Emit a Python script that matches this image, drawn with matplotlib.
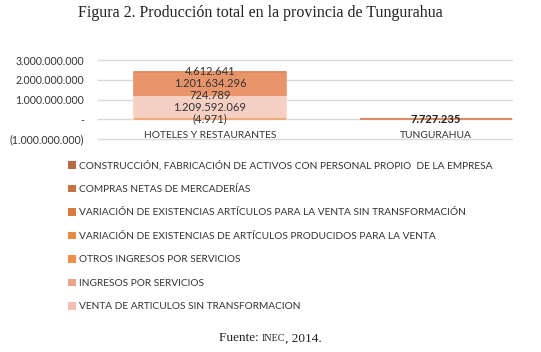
import matplotlib
matplotlib.use("Agg")
import matplotlib.pyplot as plt
from matplotlib.patches import Patch
import numpy as np

categories = ["HOTELES Y RESTAURANTES", "TUNGURAHUA"]
series_names = [
    "CONSTRUCCIÓN, FABRICACIÓN DE ACTIVOS CON PERSONAL PROPIO  DE LA EMPRESA",
    "COMPRAS NETAS DE MERCADERÍAS",
    "VARIACIÓN DE EXISTENCIAS ARTÍCULOS PARA LA VENTA SIN TRANSFORMACIÓN",
    "VARIACIÓN DE EXISTENCIAS DE ARTÍCULOS PRODUCIDOS PARA LA VENTA",
    "OTROS INGRESOS POR SERVICIOS",
    "INGRESOS POR SERVICIOS",
    "VENTA DE ARTICULOS SIN TRANSFORMACION",
]
# values per series: [HOTELES Y RESTAURANTES, TUNGURAHUA]
construccion = [4612641, 0]
compras = [1201634296, 0]
var_sin_transf = [0, 0]
var_producidos = [-4971, 0]
otros_ingresos = [0, 0]
ingresos_servicios = [724789, 7727235]
venta_articulos = [1209592069, 0]

legend_colors = ["#b86a42", "#c8733f", "#d97c40", "#e88a40", "#f09048", "#eba38a", "#f2c0b0"]
bar_colors = ["#e08a5e", "#e9956c", "#ec9a62", "#f0a468", "#f4aa70", "#eeab95", "#f7d0c4"]

yticks = [-1e9, 0, 1e9, 2e9, 3e9]
ytick_labels = ["(1.000.000.000)", "-", "1.000.000.000", "2.000.000.000", "3.000.000.000"]

def fmt(v):
    s = f"{abs(int(v)):,}".replace(",", ".")
    return f"({s})" if v < 0 else s

txt_color = "#333333"
font = "Lato"
fs = 7.6

fig = plt.figure(figsize=(5.41, 3.52), dpi=100)
ax = fig.add_axes([0.181, 0.605, 0.765, 0.2245])

# stacking bottom -> top: reverse of legend order
stack = [venta_articulos, ingresos_servicios, otros_ingresos, var_producidos,
         var_sin_transf, compras, construccion]
stack_colors = bar_colors[::-1]
x = np.arange(len(categories))
pos_base = np.zeros(len(categories))
neg_base = np.zeros(len(categories))
width = 0.67
for vals, col in zip(stack, stack_colors):
    vals = np.array(vals, dtype=float)
    bottoms = np.where(vals >= 0, pos_base, neg_base)
    ax.bar(x, vals, width, bottom=bottoms, color=col, edgecolor=col, linewidth=1.2, zorder=2)
    for i, v in enumerate(vals):
        if v != 0:
            yc = bottoms[i] + v / 2
            bold = (i == 1)
            ax.text(x[i], yc, fmt(v), ha="center", va="center", fontsize=fs + 0.4,
                    color="#222222" if bold else txt_color, family=font,
                    fontweight="bold" if bold else "normal", zorder=3)
    pos_base = pos_base + np.where(vals >= 0, vals, 0)
    neg_base = neg_base + np.where(vals < 0, vals, 0)

ax.set_ylim(-1e9, 3e9)
ax.set_xlim(-0.496, 1.336)
ax.set_yticks(yticks)
ax.set_yticklabels(ytick_labels, family=font, fontsize=fs, color=txt_color)
ax.tick_params(axis="y", length=0, pad=10)
ax.set_xticks([])
ax.grid(axis="y", color="#d9d9d9", linewidth=1, zorder=0)
for gl in ax.get_ygridlines():
    gl.set_clip_on(False)
for s in ax.spines.values():
    s.set_visible(False)
for i, c in enumerate(categories):
    ax.text(x[i], -0.8e9, c, ha="center", va="center", fontsize=fs - 0.2, color=txt_color, family=font)

handles = [Patch(facecolor=c, edgecolor="none") for c in legend_colors]
fig.legend(handles, series_names, loc="upper left", bbox_to_anchor=(0.125, 0.545),
           frameon=False, prop={"family": font, "size": 7.3}, labelcolor=txt_color,
           handlelength=0.8, handleheight=0.8, handletextpad=0.3,
           labelspacing=1.39, borderpad=0, borderaxespad=0)

fig.text(0.482, 0.962, "Figura 2. Producción total en la provincia de Tungurahua",
         ha="center", va="center", family="Liberation Serif", fontsize=11.5, color="#222222")

# footer with small caps
fig.canvas.draw()
r = fig.canvas.get_renderer()
parts = [("Fuente: ", 9.5), ("INEC", 7.2), (", 2014.", 9.5)]
objs = []
for t, sz in parts:
    objs.append(fig.text(0, 0.03, t, ha="left", va="baseline", family="Liberation Serif",
                         fontsize=sz, color="#222222"))
widths = [o.get_window_extent(r).width for o in objs]
total = sum(widths)
start = 0.5 * fig.bbox.width - total / 2
for o, w in zip(objs, widths):
    o.set_x(start / fig.bbox.width)
    start += w

fig.savefig("out.png", dpi=100)
